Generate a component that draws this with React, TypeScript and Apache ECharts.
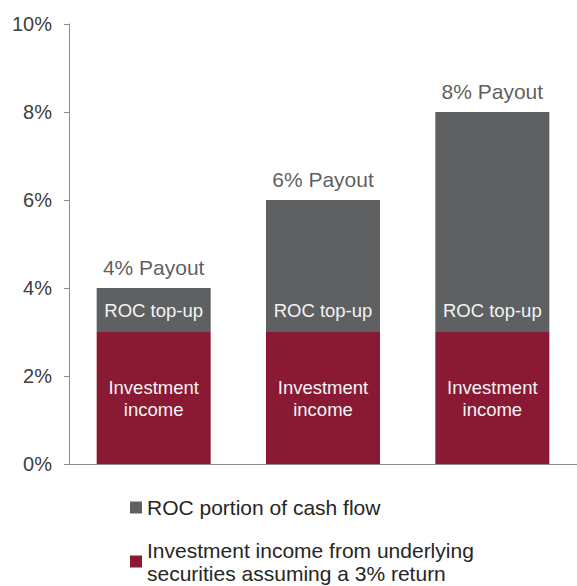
import React, { useEffect, useRef } from "react";
import * as echarts from "echarts";

const categories = ["4% Payout", "6% Payout", "8% Payout"];
const investmentIncome = [3, 3, 3];
const rocTopUp = [1, 3, 5];
const payoutTotals = [4, 6, 8];
const yTicks = { min: 0, max: 10, interval: 2 };
const legendNames = {
  roc: "ROC portion of cash flow",
  inv: "Investment income from underlying\nsecurities assuming a 3% return",
};

const RED = "#8A1A34";
const GRAY = "#5E6062";
const FONT = "Arial, 'Liberation Sans', Helvetica, sans-serif";

export default function App() {
  const ref = useRef<HTMLDivElement>(null);
  useEffect(() => {
    if (!ref.current) return;
    const chart = echarts.init(ref.current, undefined, { renderer: "svg" });
    chart.setOption({
      animation: false,
      textStyle: { fontFamily: FONT },
      grid: { left: 69, top: 24, bottom: 122, width: 510 },
      legend: {
        orient: "vertical",
        left: 130,
        top: 496,
        width: 440,
        height: 200,
        padding: 0,
        itemGap: 8,
        itemWidth: 12,
        itemHeight: 12,
        icon: "rect",
        selectedMode: false,
        textStyle: { fontSize: 21, lineHeight: 23, color: "#262626", fontFamily: FONT },
        data: [
          { name: legendNames.roc },
          { name: legendNames.inv, textStyle: { padding: [23, 0, 0, 0] } },
        ],
      },
      xAxis: {
        type: "category",
        data: categories,
        axisLine: { lineStyle: { color: "#8c8c8c", width: 1 } },
        axisTick: { show: false },
        axisLabel: { show: false },
      },
      yAxis: {
        type: "value",
        min: yTicks.min,
        max: yTicks.max,
        interval: yTicks.interval,
        axisLine: { show: true, lineStyle: { color: "#8c8c8c", width: 1 } },
        axisTick: { show: true, length: 5, lineStyle: { color: "#8c8c8c" } },
        splitLine: { show: false },
        axisLabel: {
          formatter: "{value}%",
          fontSize: 20,
          color: "#404040",
          margin: 17,
          fontFamily: FONT,
        },
      },
      series: [
        {
          name: legendNames.inv,
          type: "bar",
          stack: "total",
          data: investmentIncome,
          barWidth: 114,
          itemStyle: { color: RED },
          label: {
            show: true,
            position: "inside",
            formatter: "Investment\nincome",
            color: "#f4f4f4",
            fontSize: 18.5,
            lineHeight: 22,
            fontFamily: FONT,
          },
        },
        {
          name: legendNames.roc,
          type: "bar",
          stack: "total",
          data: rocTopUp,
          barWidth: 114,
          itemStyle: { color: GRAY },
          label: {
            show: true,
            position: "insideBottom",
            distance: 11,
            formatter: "ROC top-up",
            color: "#f4f4f4",
            fontSize: 18.5,
            lineHeight: 22,
            fontFamily: FONT,
          },
        },
        {
          name: "payout",
          type: "scatter",
          data: payoutTotals,
          symbolSize: 0,
          silent: true,
          label: {
            show: true,
            position: "top",
            distance: 9,
            formatter: "{c}% Payout",
            color: "#333333",
            fontSize: 21,
            lineHeight: 24,
            fontFamily: FONT,
          },
        },
      ],
    });
    return () => chart.dispose();
  }, []);
  return (
    <div
      ref={ref}
      style={{ position: "absolute", left: 0, top: 0, width: 577, height: 586 }}
    />
  );
}
